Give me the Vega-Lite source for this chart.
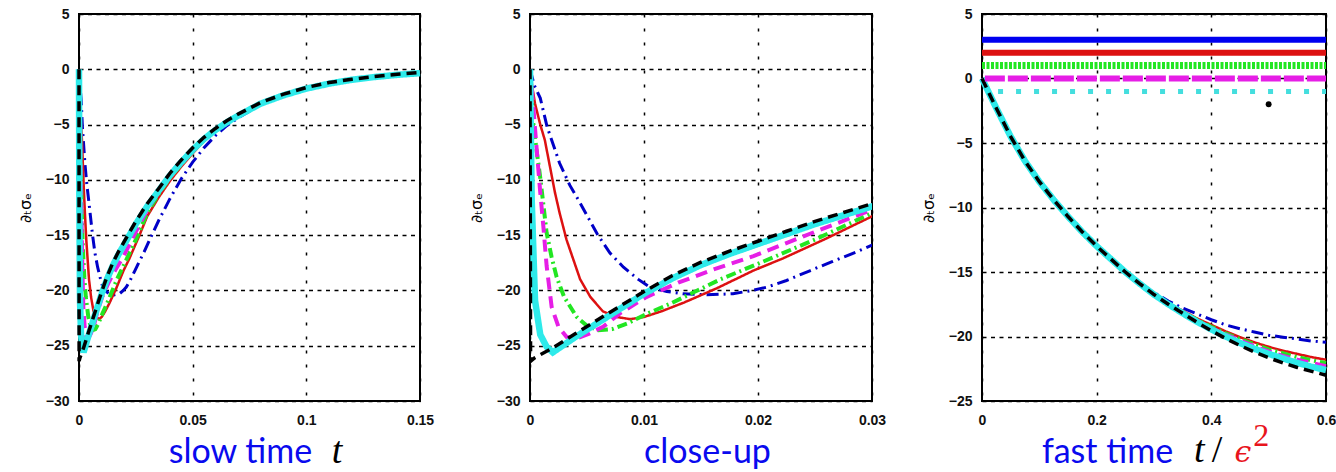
{
"$schema": "https://vega.github.io/schema/vega-lite/v6.json",
"background": "white",
"padding": {"left": 16, "top": 6, "right": 0, "bottom": 0},
"bounds": "flush",
"spacing": 110,
"config": {
  "view": {"stroke": "black", "strokeWidth": 2},
  "axis": {"labelFont": "Liberation Sans", "labelFontSize": 14, "labelFontWeight": "bold", "labelColor": "#111111", "grid": true, "gridColor": "black", "gridOpacity": 1, "gridWidth": 1.5, "ticks": false, "domain": false, "labelPadding": 10, "labelFlush": false, "labelOverlap": false},
  "axisX": {"gridDash": [3, 11], "labelPadding": 12, "titleFont": "Lato", "titleFontSize": 34, "titleColor": "#0a0aee", "titleFontWeight": "normal", "titleBaseline": "alphabetic", "titleY": 61},
  "axisY": {"gridDash": [4, 4.5], "titleFont": "DejaVu Sans", "titleFontSize": 16, "titleColor": "black", "titleFontWeight": "normal", "titlePadding": 12}
},
"datasets": {
  "slow": [
{"s":"A","x":0,"y":0},{"s":"A","x":0.0004,"y":-1.5},{"s":"A","x":0.0009,"y":-2.6},{"s":"A","x":0.0015,"y":-5.2},{"s":"A","x":0.0026,"y":-8.5},{"s":"A","x":0.0035,"y":-10.5},{"s":"A","x":0.0044,"y":-12.1},{"s":"A","x":0.0059,"y":-14.9},{"s":"A","x":0.007,"y":-16.6},{"s":"A","x":0.0082,"y":-17.9},{"s":"A","x":0.0095,"y":-19.0},{"s":"A","x":0.0105,"y":-19.7},{"s":"A","x":0.012,"y":-20.1},{"s":"A","x":0.0134,"y":-20.3},{"s":"A","x":0.0155,"y":-20.4},{"s":"A","x":0.0178,"y":-20.3},{"s":"A","x":0.0195,"y":-20.0},{"s":"A","x":0.0208,"y":-19.7},{"s":"A","x":0.0225,"y":-19.1},{"s":"A","x":0.0246,"y":-18.2},{"s":"A","x":0.0265,"y":-17.4},{"s":"A","x":0.0287,"y":-16.5},{"s":"A","x":0.03,"y":-15.9},{"s":"A","x":0.035,"y":-13.7},{"s":"A","x":0.04,"y":-11.7},{"s":"A","x":0.045,"y":-9.9},{"s":"A","x":0.05,"y":-8.4},{"s":"A","x":0.055,"y":-7.1},{"s":"A","x":0.06,"y":-6.0},{"s":"A","x":0.065,"y":-5.1},{"s":"A","x":0.07,"y":-4.4},{"s":"A","x":0.08,"y":-3.2},{"s":"A","x":0.09,"y":-2.4},{"s":"A","x":0.1,"y":-1.8},{"s":"A","x":0.11,"y":-1.35},{"s":"A","x":0.12,"y":-1.0},{"s":"A","x":0.13,"y":-0.75},{"s":"A","x":0.14,"y":-0.55},{"s":"A","x":0.15,"y":-0.4},
{"s":"B","x":0,"y":0},{"s":"B","x":0.0002,"y":-1.6},{"s":"B","x":0.00044,"y":-3.1},{"s":"B","x":0.0009,"y":-5.0},{"s":"B","x":0.0013,"y":-6.4},{"s":"B","x":0.00175,"y":-8.8},{"s":"B","x":0.0022,"y":-11.2},{"s":"B","x":0.0026,"y":-13.0},{"s":"B","x":0.0032,"y":-15.4},{"s":"B","x":0.0038,"y":-17.2},{"s":"B","x":0.0044,"y":-19.0},{"s":"B","x":0.0053,"y":-20.6},{"s":"B","x":0.0064,"y":-21.9},{"s":"B","x":0.0076,"y":-22.4},{"s":"B","x":0.0088,"y":-22.6},{"s":"B","x":0.01,"y":-22.4},{"s":"B","x":0.0115,"y":-21.9},{"s":"B","x":0.0135,"y":-21.1},{"s":"B","x":0.0164,"y":-19.8},{"s":"B","x":0.0196,"y":-18.2},{"s":"B","x":0.0222,"y":-17.1},{"s":"B","x":0.026,"y":-15.3},{"s":"B","x":0.03,"y":-13.3},{"s":"B","x":0.035,"y":-11.6},{"s":"B","x":0.04,"y":-10.1},{"s":"B","x":0.045,"y":-8.8},{"s":"B","x":0.05,"y":-7.6},{"s":"B","x":0.055,"y":-6.5},{"s":"B","x":0.06,"y":-5.6},{"s":"B","x":0.065,"y":-4.85},{"s":"B","x":0.07,"y":-4.2},{"s":"B","x":0.08,"y":-3.1},{"s":"B","x":0.09,"y":-2.35},{"s":"B","x":0.1,"y":-1.75},{"s":"B","x":0.11,"y":-1.3},{"s":"B","x":0.12,"y":-0.95},{"s":"B","x":0.13,"y":-0.7},{"s":"B","x":0.14,"y":-0.5},{"s":"B","x":0.15,"y":-0.35},
{"s":"C","x":0,"y":0},{"s":"C","x":0.0003,"y":-5.0},{"s":"C","x":0.0006,"y":-7.5},{"s":"C","x":0.0009,"y":-9.8},{"s":"C","x":0.00146,"y":-14.8},{"s":"C","x":0.0019,"y":-17.0},{"s":"C","x":0.00234,"y":-18.8},{"s":"C","x":0.003,"y":-20.6},{"s":"C","x":0.0041,"y":-22.4},{"s":"C","x":0.005,"y":-23.2},{"s":"C","x":0.006,"y":-23.6},{"s":"C","x":0.0072,"y":-23.5},{"s":"C","x":0.0085,"y":-23.0},{"s":"C","x":0.0103,"y":-22.1},{"s":"C","x":0.0123,"y":-21.2},{"s":"C","x":0.0145,"y":-20.1},{"s":"C","x":0.0167,"y":-19.0},{"s":"C","x":0.0202,"y":-17.5},{"s":"C","x":0.025,"y":-15.4},{"s":"C","x":0.03,"y":-13.0},{"s":"C","x":0.035,"y":-11.3},{"s":"C","x":0.04,"y":-9.8},{"s":"C","x":0.045,"y":-8.6},{"s":"C","x":0.05,"y":-7.4},{"s":"C","x":0.055,"y":-6.4},{"s":"C","x":0.06,"y":-5.5},{"s":"C","x":0.065,"y":-4.8},{"s":"C","x":0.07,"y":-4.2},{"s":"C","x":0.08,"y":-3.1},{"s":"C","x":0.09,"y":-2.35},{"s":"C","x":0.1,"y":-1.75},{"s":"C","x":0.11,"y":-1.3},{"s":"C","x":0.12,"y":-0.95},{"s":"C","x":0.13,"y":-0.7},{"s":"C","x":0.14,"y":-0.5},{"s":"C","x":0.15,"y":-0.35},
{"s":"D","x":0,"y":0},{"s":"D","x":0.0003,"y":-3.5},{"s":"D","x":0.00059,"y":-7.3},{"s":"D","x":0.00088,"y":-10.9},{"s":"D","x":0.00117,"y":-14.2},{"s":"D","x":0.00146,"y":-17.8},{"s":"D","x":0.0019,"y":-21.5},{"s":"D","x":0.0025,"y":-23.3},{"s":"D","x":0.0032,"y":-24.2},{"s":"D","x":0.0042,"y":-24.3},{"s":"D","x":0.0052,"y":-23.9},{"s":"D","x":0.0064,"y":-23.3},{"s":"D","x":0.008,"y":-22.0},{"s":"D","x":0.0102,"y":-20.6},{"s":"D","x":0.013,"y":-19.3},{"s":"D","x":0.0161,"y":-18.1},{"s":"D","x":0.0196,"y":-16.9},{"s":"D","x":0.025,"y":-14.7},{"s":"D","x":0.03,"y":-12.7},{"s":"D","x":0.035,"y":-11.1},{"s":"D","x":0.04,"y":-9.7},{"s":"D","x":0.045,"y":-8.5},{"s":"D","x":0.05,"y":-7.35},{"s":"D","x":0.055,"y":-6.35},{"s":"D","x":0.06,"y":-5.5},{"s":"D","x":0.065,"y":-4.8},{"s":"D","x":0.07,"y":-4.2},{"s":"D","x":0.08,"y":-3.1},{"s":"D","x":0.09,"y":-2.35},{"s":"D","x":0.1,"y":-1.75},{"s":"D","x":0.11,"y":-1.3},{"s":"D","x":0.12,"y":-0.95},{"s":"D","x":0.13,"y":-0.7},{"s":"D","x":0.14,"y":-0.5},{"s":"D","x":0.15,"y":-0.35},
{"s":"E","x":0,"y":0},{"s":"E","x":0.00015,"y":-11.8},{"s":"E","x":0.00044,"y":-20.9},{"s":"E","x":0.0009,"y":-24.0},{"s":"E","x":0.00146,"y":-25.1},{"s":"E","x":0.002,"y":-25.6},{"s":"E","x":0.004,"y":-24.2},{"s":"E","x":0.006,"y":-22.9},{"s":"E","x":0.008,"y":-21.6},{"s":"E","x":0.01,"y":-20.3},{"s":"E","x":0.0125,"y":-18.9},{"s":"E","x":0.015,"y":-17.7},{"s":"E","x":0.0175,"y":-16.7},{"s":"E","x":0.02,"y":-15.8},{"s":"E","x":0.0225,"y":-14.9},{"s":"E","x":0.025,"y":-14.0},{"s":"E","x":0.0275,"y":-13.2},{"s":"E","x":0.03,"y":-12.4},{"s":"E","x":0.035,"y":-11.0},{"s":"E","x":0.04,"y":-9.6},{"s":"E","x":0.045,"y":-8.4},{"s":"E","x":0.05,"y":-7.3},{"s":"E","x":0.055,"y":-6.3},{"s":"E","x":0.06,"y":-5.5},{"s":"E","x":0.065,"y":-4.8},{"s":"E","x":0.07,"y":-4.2},{"s":"E","x":0.08,"y":-3.1},{"s":"E","x":0.09,"y":-2.35},{"s":"E","x":0.1,"y":-1.75},{"s":"E","x":0.11,"y":-1.3},{"s":"E","x":0.12,"y":-0.95},{"s":"E","x":0.13,"y":-0.7},{"s":"E","x":0.14,"y":-0.5},{"s":"E","x":0.15,"y":-0.35},
{"s":"F","x":0,"y":0},{"s":"F","x":0.00005,"y":-26.4},{"s":"F","x":0.0004,"y":-26.1},{"s":"F","x":0.002,"y":-25.2},{"s":"F","x":0.004,"y":-23.9},{"s":"F","x":0.0065,"y":-22.3},{"s":"F","x":0.01,"y":-20.1},{"s":"F","x":0.0125,"y":-18.65},{"s":"F","x":0.015,"y":-17.45},{"s":"F","x":0.0175,"y":-16.45},{"s":"F","x":0.02,"y":-15.55},{"s":"F","x":0.0225,"y":-14.65},{"s":"F","x":0.025,"y":-13.75},{"s":"F","x":0.0275,"y":-12.95},{"s":"F","x":0.03,"y":-12.15},{"s":"F","x":0.035,"y":-10.8},{"s":"F","x":0.04,"y":-9.4},{"s":"F","x":0.045,"y":-8.2},{"s":"F","x":0.05,"y":-7.1},{"s":"F","x":0.055,"y":-6.15},{"s":"F","x":0.06,"y":-5.35},{"s":"F","x":0.065,"y":-4.65},{"s":"F","x":0.07,"y":-4.05},{"s":"F","x":0.08,"y":-3.0},{"s":"F","x":0.09,"y":-2.25},{"s":"F","x":0.1,"y":-1.65},{"s":"F","x":0.11,"y":-1.2},{"s":"F","x":0.12,"y":-0.9},{"s":"F","x":0.13,"y":-0.65},{"s":"F","x":0.14,"y":-0.45},{"s":"F","x":0.15,"y":-0.3}
  ],
  "fast": [
{"s":"A","x":0,"y":0},{"s":"A","x":0.025,"y":-2.3},{"s":"A","x":0.05,"y":-4.5},{"s":"A","x":0.075,"y":-6.4},{"s":"A","x":0.1,"y":-8.0},{"s":"A","x":0.125,"y":-9.4},{"s":"A","x":0.15,"y":-10.7},{"s":"A","x":0.175,"y":-11.9},{"s":"A","x":0.2,"y":-13.0},{"s":"A","x":0.225,"y":-14.0},{"s":"A","x":0.25,"y":-15.0},{"s":"A","x":0.275,"y":-15.85},{"s":"A","x":0.3,"y":-16.6},{"s":"A","x":0.325,"y":-17.25},{"s":"A","x":0.35,"y":-17.8},{"s":"A","x":0.375,"y":-18.25},{"s":"A","x":0.4,"y":-18.7},{"s":"A","x":0.425,"y":-19.1},{"s":"A","x":0.45,"y":-19.4},{"s":"A","x":0.475,"y":-19.65},{"s":"A","x":0.5,"y":-19.9},{"s":"A","x":0.525,"y":-20.05},{"s":"A","x":0.55,"y":-20.2},{"s":"A","x":0.575,"y":-20.35},{"s":"A","x":0.6,"y":-20.45},
{"s":"B","x":0,"y":0},{"s":"B","x":0.025,"y":-2.3},{"s":"B","x":0.05,"y":-4.5},{"s":"B","x":0.075,"y":-6.4},{"s":"B","x":0.1,"y":-8.0},{"s":"B","x":0.125,"y":-9.4},{"s":"B","x":0.15,"y":-10.7},{"s":"B","x":0.175,"y":-11.9},{"s":"B","x":0.2,"y":-13.0},{"s":"B","x":0.225,"y":-14.0},{"s":"B","x":0.25,"y":-15.0},{"s":"B","x":0.275,"y":-15.9},{"s":"B","x":0.3,"y":-16.75},{"s":"B","x":0.325,"y":-17.4},{"s":"B","x":0.35,"y":-18.0},{"s":"B","x":0.375,"y":-18.6},{"s":"B","x":0.4,"y":-19.1},{"s":"B","x":0.425,"y":-19.6},{"s":"B","x":0.45,"y":-20.05},{"s":"B","x":0.475,"y":-20.45},{"s":"B","x":0.5,"y":-20.8},{"s":"B","x":0.525,"y":-21.1},{"s":"B","x":0.55,"y":-21.35},{"s":"B","x":0.575,"y":-21.6},{"s":"B","x":0.6,"y":-21.8},
{"s":"C","x":0,"y":0},{"s":"C","x":0.025,"y":-2.3},{"s":"C","x":0.05,"y":-4.5},{"s":"C","x":0.075,"y":-6.4},{"s":"C","x":0.1,"y":-8.0},{"s":"C","x":0.125,"y":-9.4},{"s":"C","x":0.15,"y":-10.7},{"s":"C","x":0.175,"y":-11.9},{"s":"C","x":0.2,"y":-13.0},{"s":"C","x":0.225,"y":-14.0},{"s":"C","x":0.25,"y":-15.0},{"s":"C","x":0.275,"y":-15.9},{"s":"C","x":0.3,"y":-16.75},{"s":"C","x":0.325,"y":-17.5},{"s":"C","x":0.35,"y":-18.1},{"s":"C","x":0.375,"y":-18.7},{"s":"C","x":0.4,"y":-19.25},{"s":"C","x":0.425,"y":-19.75},{"s":"C","x":0.45,"y":-20.2},{"s":"C","x":0.475,"y":-20.6},{"s":"C","x":0.5,"y":-21.0},{"s":"C","x":0.525,"y":-21.3},{"s":"C","x":0.55,"y":-21.6},{"s":"C","x":0.575,"y":-21.85},{"s":"C","x":0.6,"y":-22.05},
{"s":"D","x":0,"y":0},{"s":"D","x":0.025,"y":-2.3},{"s":"D","x":0.05,"y":-4.5},{"s":"D","x":0.075,"y":-6.4},{"s":"D","x":0.1,"y":-8.0},{"s":"D","x":0.125,"y":-9.4},{"s":"D","x":0.15,"y":-10.7},{"s":"D","x":0.175,"y":-11.9},{"s":"D","x":0.2,"y":-13.0},{"s":"D","x":0.225,"y":-14.0},{"s":"D","x":0.25,"y":-15.0},{"s":"D","x":0.275,"y":-15.9},{"s":"D","x":0.3,"y":-16.75},{"s":"D","x":0.325,"y":-17.5},{"s":"D","x":0.35,"y":-18.15},{"s":"D","x":0.375,"y":-18.8},{"s":"D","x":0.4,"y":-19.35},{"s":"D","x":0.425,"y":-19.85},{"s":"D","x":0.45,"y":-20.3},{"s":"D","x":0.475,"y":-20.75},{"s":"D","x":0.5,"y":-21.15},{"s":"D","x":0.525,"y":-21.5},{"s":"D","x":0.55,"y":-21.8},{"s":"D","x":0.575,"y":-22.05},{"s":"D","x":0.6,"y":-22.3},
{"s":"E","x":0,"y":0},{"s":"E","x":0.025,"y":-2.3},{"s":"E","x":0.05,"y":-4.5},{"s":"E","x":0.075,"y":-6.4},{"s":"E","x":0.1,"y":-8.0},{"s":"E","x":0.125,"y":-9.4},{"s":"E","x":0.15,"y":-10.7},{"s":"E","x":0.175,"y":-11.9},{"s":"E","x":0.2,"y":-13.0},{"s":"E","x":0.225,"y":-14.0},{"s":"E","x":0.25,"y":-15.0},{"s":"E","x":0.275,"y":-15.9},{"s":"E","x":0.3,"y":-16.75},{"s":"E","x":0.325,"y":-17.5},{"s":"E","x":0.35,"y":-18.2},{"s":"E","x":0.375,"y":-18.85},{"s":"E","x":0.4,"y":-19.45},{"s":"E","x":0.425,"y":-20.0},{"s":"E","x":0.45,"y":-20.5},{"s":"E","x":0.475,"y":-20.95},{"s":"E","x":0.5,"y":-21.35},{"s":"E","x":0.525,"y":-21.7},{"s":"E","x":0.55,"y":-22.05},{"s":"E","x":0.575,"y":-22.35},{"s":"E","x":0.6,"y":-22.6},
{"s":"F","x":0,"y":0},{"s":"F","x":0.025,"y":-2.3},{"s":"F","x":0.05,"y":-4.5},{"s":"F","x":0.075,"y":-6.4},{"s":"F","x":0.1,"y":-8.0},{"s":"F","x":0.125,"y":-9.4},{"s":"F","x":0.15,"y":-10.7},{"s":"F","x":0.175,"y":-11.9},{"s":"F","x":0.2,"y":-13.0},{"s":"F","x":0.225,"y":-14.0},{"s":"F","x":0.25,"y":-15.0},{"s":"F","x":0.275,"y":-15.9},{"s":"F","x":0.3,"y":-16.75},{"s":"F","x":0.325,"y":-17.5},{"s":"F","x":0.35,"y":-18.2},{"s":"F","x":0.375,"y":-18.9},{"s":"F","x":0.4,"y":-19.55},{"s":"F","x":0.425,"y":-20.15},{"s":"F","x":0.45,"y":-20.7},{"s":"F","x":0.475,"y":-21.2},{"s":"F","x":0.5,"y":-21.65},{"s":"F","x":0.525,"y":-22.05},{"s":"F","x":0.55,"y":-22.4},{"s":"F","x":0.575,"y":-22.7},{"s":"F","x":0.6,"y":-23.0}
  ],
  "hlines": [
{"s":"HA","x":0,"y":3},{"s":"HA","x":0.6,"y":3},
{"s":"HB","x":0,"y":2},{"s":"HB","x":0.6,"y":2},
{"s":"HC","x":0,"y":1},{"s":"HC","x":0.6,"y":1},
{"s":"HD","x":0.005,"y":0},{"s":"HD","x":0.6,"y":0},
{"s":"HE","x":0.028,"y":-1},{"s":"HE","x":0.6,"y":-1}
  ]
},
"hconcat": [
{
  "width": 341, "height": 387,
  "layer": [
    {"data": {"name": "slow"}, "mark": {"type": "line"},
     "encoding": {
       "x": {"field": "x", "type": "quantitative", "scale": {"domain": [0, 0.15], "nice": false, "zero": false}, "axis": {"values": [0, 0.05, 0.1, 0.15], "format": "~g", "title": "slow time", "titleX": 161}},
       "y": {"field": "y", "type": "quantitative", "scale": {"domain": [-30, 5], "nice": false, "zero": false}, "axis": {"values": [-30, -25, -20, -15, -10, -5, 0, 5], "title": "∂ₜσₑ"}},
       "color": {"field": "s", "type": "nominal", "legend": null, "scale": {"domain": ["A","B","C","D","E","F","HA","HB","HC","HD","HE"], "range": ["#0000c8","#dd1111","#22e622","#e61ee6","#2eeaea","#000000","#0000f0","#dd1111","#22e622","#e61ee6","#44dede"]}},
       "strokeDash": {"field": "s", "type": "nominal", "legend": null, "scale": {"domain": ["A","B","C","D","E","F","HA","HB","HC","HD","HE"], "range": [[12,5,2,5],[1,0],[10,4,2,4],[12,7],[1,0],[10,6],[1,0],[1,0],[3,1.5],[20,3],[5,13]]}},
       "size": {"field": "s", "type": "nominal", "legend": null, "scale": {"type": "ordinal", "domain": ["A","B","C","D","E","F","HA","HB","HC","HD","HE"], "range": [3,2.5,4,4,6.5,3.5,6,6,7,6,5]}}
     }},
    {"data": {"values": [{"label": "t"}]}, "mark": {"type": "text", "font": "Liberation Serif", "fontStyle": "italic", "fontSize": 38, "baseline": "alphabetic", "align": "center", "color": "black"},
     "encoding": {"x": {"datum": 0.1135}, "y": {"datum": -35.6}, "text": {"field": "label"}}}
  ]
},
{
  "width": 342, "height": 387,
  "layer": [
    {"data": {"name": "slow"}, "mark": {"type": "line", "clip": true},
     "encoding": {
       "x": {"field": "x", "type": "quantitative", "scale": {"domain": [0, 0.03], "nice": false, "zero": false}, "axis": {"values": [0, 0.01, 0.02, 0.03], "format": "~g", "title": "close-up", "titleX": 177}},
       "y": {"field": "y", "type": "quantitative", "scale": {"domain": [-30, 5], "nice": false, "zero": false}, "axis": {"values": [-30, -25, -20, -15, -10, -5, 0, 5], "title": "∂ₜσₑ"}},
       "color": {"field": "s", "type": "nominal", "legend": null, "scale": {"domain": ["A","B","C","D","E","F","HA","HB","HC","HD","HE"], "range": ["#0000c8","#dd1111","#22e622","#e61ee6","#2eeaea","#000000","#0000f0","#dd1111","#22e622","#e61ee6","#44dede"]}},
       "strokeDash": {"field": "s", "type": "nominal", "legend": null, "scale": {"domain": ["A","B","C","D","E","F","HA","HB","HC","HD","HE"], "range": [[12,5,2,5],[1,0],[10,4,2,4],[12,7],[1,0],[10,6],[1,0],[1,0],[3,1.5],[20,3],[5,13]]}},
       "size": {"field": "s", "type": "nominal", "legend": null, "scale": {"type": "ordinal", "domain": ["A","B","C","D","E","F","HA","HB","HC","HD","HE"], "range": [3,2.5,4,4,6.5,3.5,6,6,7,6,5]}}
     }}
  ]
},
{
  "width": 344, "height": 387,
  "layer": [
    {"data": {"name": "fast"}, "mark": {"type": "line"},
     "encoding": {
       "x": {"field": "x", "type": "quantitative", "scale": {"domain": [0, 0.6], "nice": false, "zero": false}, "axis": {"values": [0, 0.2, 0.4, 0.6], "format": "~g", "title": "fast time", "titleX": 125}},
       "y": {"field": "y", "type": "quantitative", "scale": {"domain": [-25, 5], "nice": false, "zero": false}, "axis": {"values": [-25, -20, -15, -10, -5, 0, 5], "title": "∂ₜσₑ"}},
       "color": {"field": "s", "type": "nominal", "legend": null, "scale": {"domain": ["A","B","C","D","E","F","HA","HB","HC","HD","HE"], "range": ["#0000c8","#dd1111","#22e622","#e61ee6","#2eeaea","#000000","#0000f0","#dd1111","#22e622","#e61ee6","#44dede"]}},
       "strokeDash": {"field": "s", "type": "nominal", "legend": null, "scale": {"domain": ["A","B","C","D","E","F","HA","HB","HC","HD","HE"], "range": [[12,5,2,5],[1,0],[10,4,2,4],[12,7],[1,0],[10,6],[1,0],[1,0],[3,1.5],[20,3],[5,13]]}},
       "size": {"field": "s", "type": "nominal", "legend": null, "scale": {"type": "ordinal", "domain": ["A","B","C","D","E","F","HA","HB","HC","HD","HE"], "range": [3,2.5,4,4,6.5,3.5,6,6,7,6,5]}}
     }},
    {"data": {"name": "hlines"}, "mark": {"type": "line"},
     "encoding": {
       "x": {"field": "x", "type": "quantitative"},
       "y": {"field": "y", "type": "quantitative"},
       "color": {"field": "s", "type": "nominal", "legend": null, "scale": {"domain": ["A","B","C","D","E","F","HA","HB","HC","HD","HE"], "range": ["#0000c8","#dd1111","#22e622","#e61ee6","#2eeaea","#000000","#0000f0","#dd1111","#22e622","#e61ee6","#44dede"]}},
       "strokeDash": {"field": "s", "type": "nominal", "legend": null, "scale": {"domain": ["A","B","C","D","E","F","HA","HB","HC","HD","HE"], "range": [[12,5,2,5],[1,0],[10,4,2,4],[12,7],[1,0],[10,6],[1,0],[1,0],[3,1.5],[20,3],[5,13]]}},
       "size": {"field": "s", "type": "nominal", "legend": null, "scale": {"type": "ordinal", "domain": ["A","B","C","D","E","F","HA","HB","HC","HD","HE"], "range": [3,2.5,4,4,6.5,3.5,6,6,7,6,5]}}
     }},
    {"data": {"values": [{"x": 0.5, "y": -2}]}, "mark": {"type": "point", "filled": true, "color": "black", "opacity": 1, "size": 35},
     "encoding": {"x": {"field": "x", "type": "quantitative"}, "y": {"field": "y", "type": "quantitative"}}},
    {"data": {"values": [{"label": "t"}]}, "mark": {"type": "text", "font": "Liberation Serif", "fontStyle": "italic", "fontSize": 38, "baseline": "alphabetic", "align": "center", "color": "black"},
     "encoding": {"x": {"datum": 0.379}, "y": {"datum": -29.75}, "text": {"field": "label"}}},
    {"data": {"values": [{"label": "/"}]}, "mark": {"type": "text", "font": "Liberation Serif", "fontSize": 38, "baseline": "alphabetic", "align": "center", "color": "black"},
     "encoding": {"x": {"datum": 0.41}, "y": {"datum": -29.75}, "text": {"field": "label"}}},
    {"data": {"values": [{"label": "ϵ"}]}, "mark": {"type": "text", "font": "DejaVu Serif", "fontStyle": "italic", "fontSize": 30, "baseline": "alphabetic", "align": "center", "color": "#e8141c"},
     "encoding": {"x": {"datum": 0.455}, "y": {"datum": -29.75}, "text": {"field": "label"}}},
    {"data": {"values": [{"label": "2"}]}, "mark": {"type": "text", "font": "Liberation Serif", "fontSize": 32, "baseline": "alphabetic", "align": "center", "color": "#e8141c"},
     "encoding": {"x": {"datum": 0.487}, "y": {"datum": -28.45}, "text": {"field": "label"}}}
  ]
}
]
}
